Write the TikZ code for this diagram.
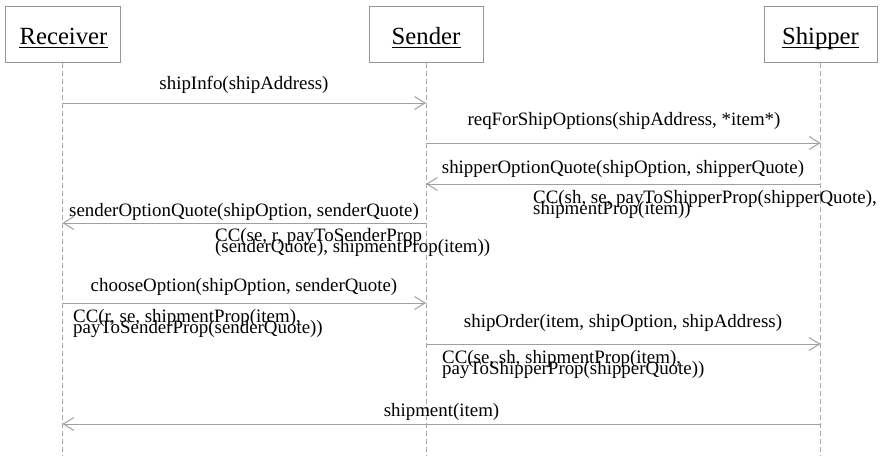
\documentclass[tikz,border=0pt]{standalone}
\usepackage{fontspec}
\setmainfont{Liberation Serif}
\usetikzlibrary{arrows.meta}
\definecolor{boxgray}{RGB}{150,150,150}
\definecolor{msggray}{RGB}{160,160,160}
\definecolor{lifegray}{RGB}{170,170,170}
\newcommand\twolines[2]{\vtop{\baselineskip=11pt\lineskiplimit=-50pt\hbox{#1}\hbox{#2}}}
\begin{document}
\begin{tikzpicture}[x=1pt,y=-1pt,
  objbox/.style={draw=boxgray, line width=0.8pt, fill=white, minimum height=56.5pt, inner sep=0pt},
  title/.style={font=\fontsize{24.7}{28}\selectfont, anchor=base, inner sep=0pt},
  lifeline/.style={draw=lifegray, dash pattern=on 5pt off 3pt, line width=0.8pt},
  msg/.style={draw=msggray, line width=1pt, -{Straight Barb[length=10.5pt,width=13pt]}},
  msglabel/.style={font=\fontsize{18.9}{22}\selectfont, anchor=base, inner sep=0pt},
  cclabel/.style={font=\fontsize{18.9}{11}\selectfont, anchor=base west, inner sep=0pt}]
\useasboundingbox (0,0) rectangle (882,455);

% objects
\node[objbox, minimum width=115pt] (r) at (62.5,34.25) {};
\node[objbox, minimum width=114pt] (se) at (426,34.25) {};
\node[objbox, minimum width=113pt] (sh) at (820.5,34.25) {};
\node[title] (rt) at (63.5,44) {Receiver};
\node[title] (set) at (426,44) {Sender};
\node[title] (sht) at (820.5,44) {Shipper};
\foreach \t in {rt,set,sht}
  \draw[line width=1pt] ([yshift=-3pt]\t.base west) -- ([yshift=-3pt]\t.base east);

% lifelines
\coordinate (rend) at (62.5,455);
\coordinate (seend) at (426,455);
\coordinate (shend) at (820.5,455);
\draw[lifeline] (r.south) -- (rend);
\draw[lifeline] (se.south) -- (seend);
\draw[lifeline] (sh.south) -- (shend);

% message end points
\coordinate (r1) at (62.5,103);   \coordinate (se1) at (426,103);
\coordinate (se2) at (426,143);   \coordinate (sh2) at (820.5,143);
\coordinate (sh3) at (820.5,184); \coordinate (se3) at (426,184);
\coordinate (se5) at (426,223);   \coordinate (r5) at (62.5,223);
\coordinate (r7) at (62.5,303);   \coordinate (se7) at (426,303);
\coordinate (se9) at (426,344);   \coordinate (sh9) at (820.5,344);
\coordinate (sh11) at (820.5,424); \coordinate (r11) at (62.5,424);

% messages
\draw[msg] (r1) -- (se1);
\node[msglabel] (l1) at (244,89) {shipInfo(shipAddress)};
\draw[msg] (se2) -- (sh2);
\node[msglabel] (l2) at (624,125) {reqForShipOptions(shipAddress, *item*)};
\draw[msg] (sh3) -- (se3);
\node[msglabel] (l3) at (623,173) {shipperOptionQuote(shipOption, shipperQuote)};
\node[cclabel] (c4) at (533,203) {\twolines{CC(sh, se, payToShipperProp(shipperQuote),}{shipmentProp(item))}};
\draw[msg] (se5) -- (r5);
\node[msglabel] (l5) at (244,216) {senderOptionQuote(shipOption, senderQuote)};
\node[cclabel] (c6) at (215,241) {\twolines{CC(se, r, payToSenderProp}{(senderQuote), shipmentProp(item))}};
\draw[msg] (r7) -- (se7);
\node[msglabel] (l7) at (244,291) {chooseOption(shipOption, senderQuote)};
\node[cclabel] (c8) at (73,322) {\twolines{CC(r, se, shipmentProp(item),}{payToSenderProp(senderQuote))}};
\draw[msg] (se9) -- (sh9);
\node[msglabel] (l9) at (623,327) {shipOrder(item, shipOption, shipAddress)};
\node[cclabel] (c10) at (442,363) {\twolines{CC(se, sh, shipmentProp(item),}{payToShipperProp(shipperQuote))}};
\draw[msg] (sh11) -- (r11);
\node[msglabel] (l11) at (441.5,416) {shipment(item)};
\end{tikzpicture}
\end{document}
